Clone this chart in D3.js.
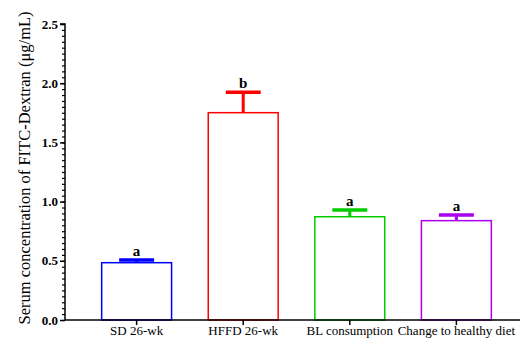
<!DOCTYPE html>
<html>
<head>
<meta charset="utf-8">
<script src="https://cdn.jsdelivr.net/npm/d3@7"></script>
<style>
  body { margin: 0; background: #fff; }
  svg { display: block; }
</style>
</head>
<body>
<div id="chart"></div>
<script>
// chart data
const groups = ['SD 26-wk', 'HFFD 26-wk', 'BL consumption', 'Change to healthy diet'];
const means = [0.484, 1.751, 0.872, 0.839];
const errors = [0.023, 0.172, 0.057, 0.048];
const letters = ['a', 'b', 'a', 'a'];
const colors = ['#0000ff', '#ff0000', '#00cc00', '#aa00ee'];
const yTicks = [0, 0.5, 1.0, 1.5, 2.0, 2.5];

const width = 520, height = 340;
const margin = { top: 24, right: 0, bottom: 20, left: 65 };
const innerHeight = height - margin.top - margin.bottom;
const serif = 'Liberation Serif, Times New Roman, serif';

const svg = d3.select('#chart')
  .append('svg')
  .attr('width', width)
  .attr('height', height);

const g = svg.append('g')
  .attr('transform', `translate(${margin.left},${margin.top})`);

// scales
const x = d3.scaleBand()
  .domain(groups)
  .range([0, 463])
  .paddingInner(0.344)
  .paddingOuter(0.344);

const y = d3.scaleLinear().domain([0, 2.5]).range([innerHeight, 0]);

// minor ticks every 0.05
const minor = d3.range(0, 2.5001, 0.05);
const minorAxis = g.append('g')
  .call(d3.axisLeft(y).tickValues(minor).tickSize(3).tickFormat(''));
minorAxis.select('.domain').remove();
minorAxis.selectAll('text').remove();
minorAxis.selectAll('line').attr('stroke', '#000').attr('stroke-width', 1.2);

// y axis
const yAxis = g.append('g')
  .call(d3.axisLeft(y).tickValues(yTicks).tickSize(5).tickPadding(2).tickFormat(d3.format('.1f')));
yAxis.select('.domain').attr('stroke-width', 1.5).attr('d', `M-5,0H0V${innerHeight}`);
yAxis.selectAll('line').attr('stroke-width', 1.5);
yAxis.selectAll('text')
  .attr('font-family', serif)
  .attr('font-weight', 'bold')
  .attr('font-size', 13)
  .attr('fill', '#000');

// bars
g.selectAll('.bar')
  .data(groups)
  .join('rect')
  .attr('class', 'bar')
  .attr('x', d => x(d))
  .attr('y', (d, i) => y(means[i]))
  .attr('width', x.bandwidth())
  .attr('height', (d, i) => innerHeight - y(means[i]))
  .attr('fill', 'none')
  .attr('stroke', (d, i) => colors[i])
  .attr('stroke-width', 1.5);

// error bars (upper only)
const errG = g.selectAll('.err')
  .data(groups)
  .join('g')
  .attr('class', 'err');

errG.append('line')
  .attr('x1', d => x(d) + x.bandwidth() / 2)
  .attr('x2', d => x(d) + x.bandwidth() / 2)
  .attr('y1', (d, i) => y(means[i]))
  .attr('y2', (d, i) => y(means[i] + errors[i]))
  .attr('stroke', (d, i) => colors[i])
  .attr('stroke-width', 3);

errG.append('line')
  .attr('x1', d => x(d) + x.bandwidth() / 4)
  .attr('x2', d => x(d) + x.bandwidth() * 3 / 4)
  .attr('y1', (d, i) => y(means[i] + errors[i]))
  .attr('y2', (d, i) => y(means[i] + errors[i]))
  .attr('stroke', (d, i) => colors[i])
  .attr('stroke-width', 3.5);

// significance letters
g.selectAll('.letter')
  .data(groups)
  .join('text')
  .attr('class', 'letter')
  .attr('x', d => x(d) + x.bandwidth() / 2)
  .attr('y', (d, i) => y(means[i] + errors[i]) - 4)
  .attr('text-anchor', 'middle')
  .attr('font-family', serif)
  .attr('font-weight', 'bold')
  .attr('font-size', 15)
  .text((d, i) => letters[i]);

// x axis
const xAxis = g.append('g')
  .attr('transform', `translate(0,${innerHeight})`)
  .call(d3.axisBottom(x).tickSize(5).tickPadding(3).tickSizeOuter(0));
xAxis.select('.domain').attr('stroke-width', 1.5).attr('d', `M0,0H${width - margin.left}`);
xAxis.selectAll('line').attr('stroke-width', 1.5);
xAxis.selectAll('text')
  .attr('dy', null)
  .attr('y', 15)
  .attr('font-family', serif)
  .attr('font-size', 13)
  .attr('fill', '#000');

// y label
svg.append('text')
  .attr('transform', `translate(30,${margin.top + innerHeight / 2 - 4}) rotate(-90)`)
  .attr('text-anchor', 'middle')
  .attr('font-family', serif)
  .attr('font-size', 16.5)
  .text('Serum concentration of FITC-Dextran (μg/mL)');
</script>
</body>
</html>
